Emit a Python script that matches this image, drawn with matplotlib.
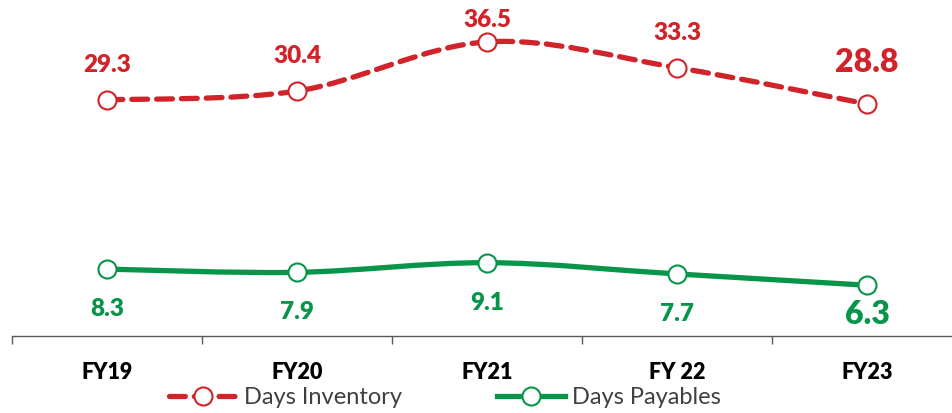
import matplotlib
matplotlib.use("Agg")
import matplotlib.pyplot as plt
from matplotlib.lines import Line2D
from matplotlib.path import Path
from matplotlib.patches import PathPatch

YEARS = ["FY19", "FY20", "FY21", "FY 22", "FY23"]
DAYS_INVENTORY = [29.3, 30.4, 36.5, 33.3, 28.8]
DAYS_PAYABLES = [8.3, 7.9, 9.1, 7.7, 6.3]

RED = "#d1232a"
GREEN = "#07954a"
FONT = "Lato"
DASH = (0, (3.0, 1.7))


def smooth_path(xs, ys):
    # Catmull-Rom style bezier, similar to a spreadsheet "smoothed line"
    pts = list(zip(xs, ys))
    verts = [pts[0]]
    codes = [Path.MOVETO]
    n = len(pts)
    for i in range(n - 1):
        p0 = pts[max(i - 1, 0)]
        p1 = pts[i]
        p2 = pts[i + 1]
        p3 = pts[min(i + 2, n - 1)]
        c1 = (p1[0] + (p2[0] - p0[0]) / 6, p1[1] + (p2[1] - p0[1]) / 6)
        c2 = (p2[0] - (p3[0] - p1[0]) / 6, p2[1] - (p3[1] - p1[1]) / 6)
        verts += [c1, c2, p2]
        codes += [Path.CURVE4] * 3
    return Path(verts, codes)


fig = plt.figure(figsize=(9.53, 4.13), dpi=100)
ax = fig.add_axes([12 / 953, 77 / 413, 950 / 953, 336 / 413])
ax.set_xlim(-0.5, len(YEARS) - 0.5)
ax.set_ylim(0, 41.7)
xs = list(range(len(YEARS)))

ax.add_patch(PathPatch(smooth_path(xs, DAYS_INVENTORY), facecolor="none", edgecolor=RED,
                       linewidth=3.8, linestyle=DASH, capstyle="round", zorder=2))
ax.add_patch(PathPatch(smooth_path(xs, DAYS_PAYABLES), facecolor="none", edgecolor=GREEN,
                       linewidth=3.8, capstyle="round", zorder=2))
ax.plot(xs, DAYS_INVENTORY, linestyle="none", marker="o", markersize=13, markerfacecolor="white",
        markeredgecolor=RED, markeredgewidth=1.5, zorder=3)
ax.plot(xs, DAYS_PAYABLES, linestyle="none", marker="o", markersize=13, markerfacecolor="white",
        markeredgecolor=GREEN, markeredgewidth=1.5, zorder=3)

ymax = ax.get_ylim()[1]
px_per_unit = 336 / ymax
last = len(YEARS) - 1
for i, v in enumerate(DAYS_INVENTORY):
    big = i == last
    off = 32 if big else 28
    off = min(off, (ymax - v) * px_per_unit - 27)
    ax.annotate(f"{v:.1f}", (i, v), xytext=(0, off), textcoords="offset pixels", ha="center",
                va="baseline", color=RED, fontsize=23 if big else 17.5, fontweight="heavy",
                family=FONT, annotation_clip=False)
for i, v in enumerate(DAYS_PAYABLES):
    big = i == last
    off = -39 if big else -47
    ax.annotate(f"{v:.1f}", (i, v), xytext=(0, off), textcoords="offset pixels", ha="center",
                va="baseline", color=GREEN, fontsize=23 if big else 17.5, fontweight="heavy",
                family=FONT, annotation_clip=False)

for side in ["top", "right", "left"]:
    ax.spines[side].set_visible(False)
ax.spines["bottom"].set_color("#595959")
ax.spines["bottom"].set_linewidth(1.0)
ax.set_yticks([])
ax.set_xticks(xs)
ax.set_xticklabels(YEARS, fontsize=15.5, fontweight="heavy", family=FONT, color="black")
ax.tick_params(axis="x", which="major", length=0, pad=19)
ax.set_xticks([x - 0.5 for x in range(len(YEARS) + 1)], minor=True)
ax.tick_params(axis="x", which="minor", length=6, width=1.0, color="#595959", direction="out")

handles = [
    Line2D([], [], color=RED, linewidth=3.8, linestyle=DASH, dash_capstyle="round",
           marker="o", markersize=13, markerfacecolor="white", markeredgecolor=RED, markeredgewidth=1.5),
    Line2D([], [], color=GREEN, linewidth=3.8, marker="o", markersize=13, markerfacecolor="white",
           markeredgecolor=GREEN, markeredgewidth=1.5),
]
fig.legend(handles, ["Days Inventory", "Days Payables"], loc="center", bbox_to_anchor=(445 / 953, 1 - 398 / 413),
           ncol=2, frameon=False, handlelength=2.9, handletextpad=0.3, columnspacing=4.0,
           prop={"family": FONT, "size": 17}, labelcolor="#404040")

fig.savefig("out.png", dpi=100)
